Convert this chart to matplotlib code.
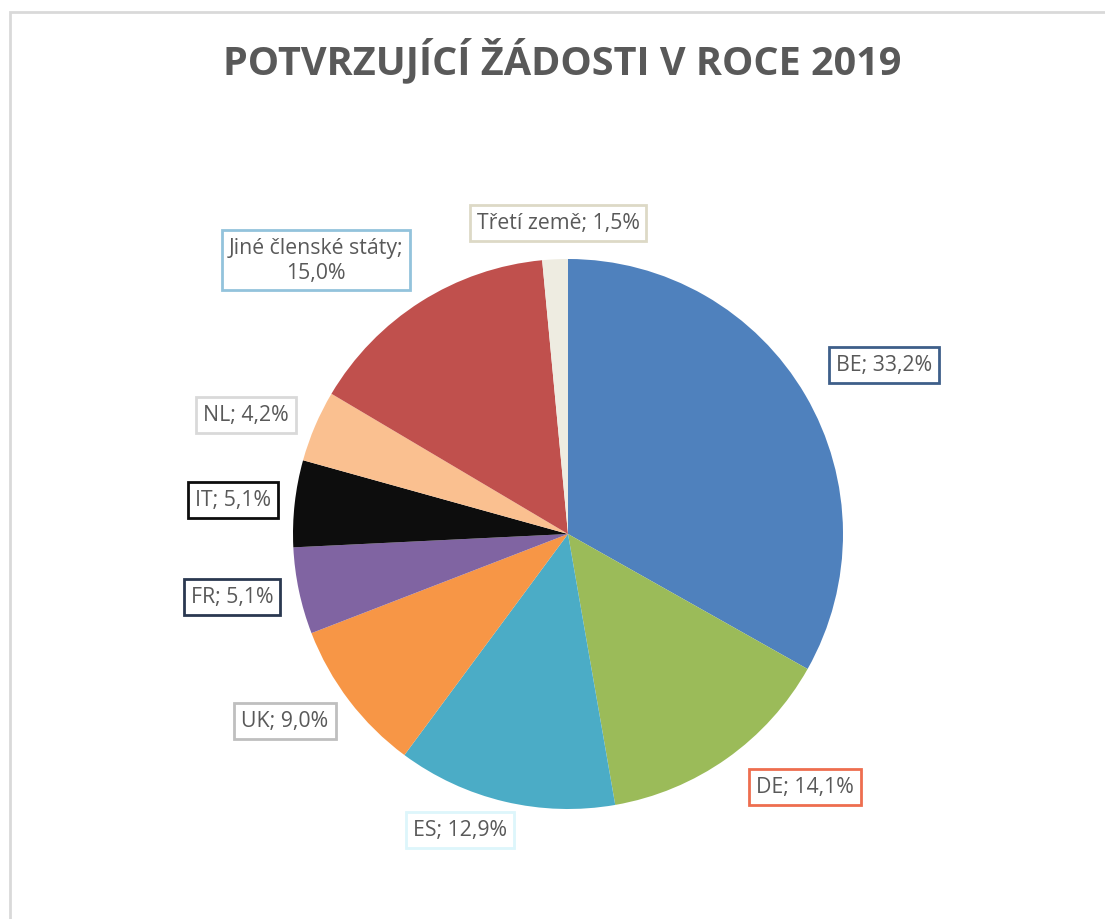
import matplotlib
matplotlib.use("Agg")
import matplotlib.pyplot as plt
from matplotlib.patches import Rectangle

plt.rcParams["font.family"] = ["Open Sans", "DejaVu Sans"]

# data, clockwise from 12 o'clock
countries = ["BE", "DE", "ES", "UK", "FR", "IT", "NL",
             "Jiné členské státy", "Třetí země"]
shares = [33.2, 14.1, 12.9, 9.0, 5.1, 5.1, 4.2, 15.0, 1.5]
colors = ["#4F81BD", "#9BBB59", "#4BACC6", "#F79646", "#8064A2",
          "#0D0D0D", "#FAC090", "#C0504D", "#EEECE1"]
box_edges = ["#3E5F8A", "#EE6E4F", "#DDF6FB", "#BFBFBF", "#2A3850",
             "#0D0D0D", "#D9D9D9", "#93C3DC", "#DDD9C6"]

W, H = 1105, 920
# label centres in pixel coords (x, y from top)
label_pos = [(884, 366), (805, 788), (460, 831), (285, 722), (232, 598),
             (233, 501), (246, 416), (316, 261), (558, 224)]
TXT = "#595959"

fig = plt.figure(figsize=(W / 100, H / 100), dpi=100)
ax = fig.add_axes([0, 0, 1, 1])

ax.add_patch(Rectangle((9.5, -10), W + 20, H - 13 + 10, fill=False,
                       edgecolor="#D9D9D9", lw=2))

ax.pie(shares, colors=colors, startangle=90, counterclock=False,
       center=(568, H - 535), radius=275, frame=True,
       wedgeprops=dict(linewidth=0))
ax.set_xlim(0, W)
ax.set_ylim(0, H)
ax.set_aspect("equal")
ax.axis("off")

for name, val, ec, (px, py) in zip(countries, shares, box_edges, label_pos):
    sep = "\n" if name.startswith("Jiné") else " "
    txt = f"{name};{sep}{val:.1f}%".replace(".", ",")
    ax.text(px, H - py, txt, ha="center", va="center", fontsize=15.3,
            color=TXT, linespacing=1.3,
            bbox=dict(boxstyle="square,pad=0.33", fc="white", ec=ec, lw=2))

ax.text(562, H - 60, "POTVRZUJÍCÍ ŽÁDOSTI V ROCE 2019", ha="center",
        va="center", fontsize=28.5, fontweight="bold", color=TXT)

fig.savefig("out.png", dpi=100)
